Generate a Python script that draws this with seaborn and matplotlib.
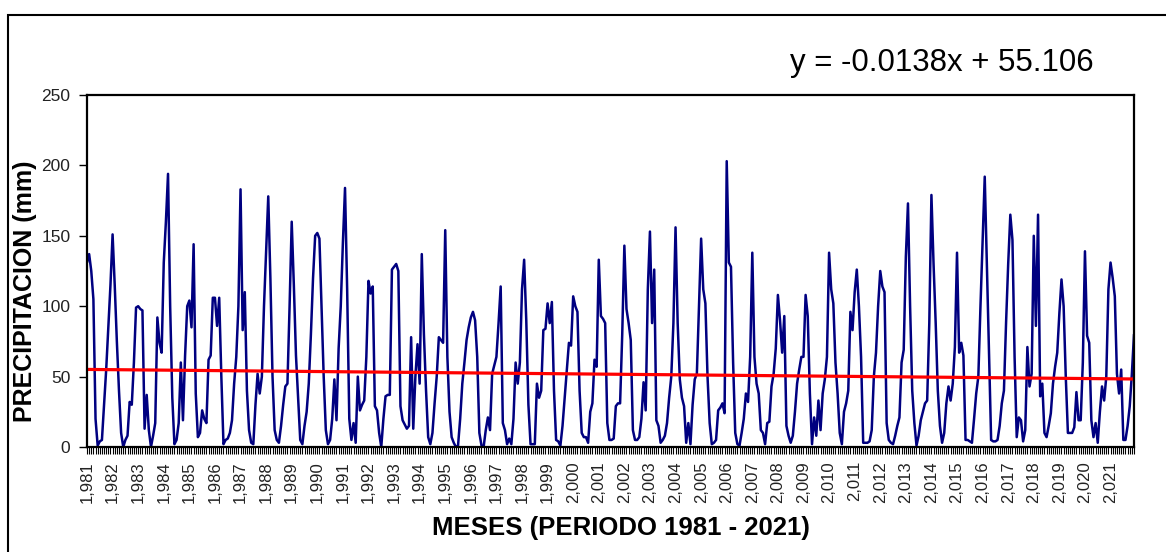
import numpy as np
import pandas as pd
import matplotlib
matplotlib.use("Agg")
import matplotlib.pyplot as plt
from matplotlib.patches import Rectangle
import seaborn as sns

# Monthly precipitation (mm), January 1981 - December 2021
rain_1981_1990 = [
    131, 137, 125, 105, 20, 1, 4, 5, 30, 55, 85, 115,
    151, 115, 75, 40, 10, 0, 5, 8, 32, 30, 60, 99,
    100, 98, 97, 13, 37, 12, 0, 8, 17, 92, 74, 67,
    131, 160, 194, 100, 35, 2, 5, 17, 60, 19, 65, 100,
    104, 85, 144, 38, 7, 10, 26, 20, 17, 62, 65, 106,
    106, 86, 106, 50, 2, 5, 6, 10, 19, 45, 64, 100,
    183, 83, 110, 40, 12, 3, 2, 30, 52, 38, 50, 100,
    140, 178, 120, 50, 12, 5, 3, 15, 30, 43, 45, 100,
    160, 115, 65, 35, 5, 2, 15, 25, 45, 80, 120, 150,
    152, 148, 100, 50, 12, 2, 5, 20, 48, 19, 70, 100,
]
rain_1991_2000 = [
    145, 184, 112, 20, 5, 17, 3, 50, 26, 30, 33, 64,
    118, 109, 114, 29, 26, 10, 0, 20, 36, 37, 37, 126,
    128, 130, 125, 29, 19, 16, 13, 15, 78, 13, 50, 73,
    45, 137, 80, 40, 7, 2, 10, 31, 50, 78, 76, 74,
    154, 64, 25, 7, 3, 0, 1, 20, 45, 60, 76, 85,
    92, 96, 90, 64, 10, 1, 0, 12, 21, 12, 52, 58,
    64, 88, 114, 17, 12, 2, 6, 2, 20, 60, 45, 60,
    112, 133, 90, 30, 2, 2, 2, 45, 35, 40, 83, 84,
    102, 88, 103, 40, 5, 4, 1, 15, 35, 55, 74, 72,
    107, 100, 96, 40, 10, 7, 7, 3, 25, 31, 62, 57,
]
rain_2001_2010 = [
    133, 93, 91, 88, 17, 5, 5, 6, 29, 31, 31, 80,
    143, 98, 88, 76, 12, 5, 5, 7, 20, 46, 26, 112,
    153, 88, 126, 19, 15, 3, 5, 8, 17, 35, 50, 88,
    156, 88, 48, 35, 29, 3, 17, 2, 30, 48, 52, 100,
    148, 112, 102, 50, 17, 2, 3, 5, 26, 28, 31, 24,
    203, 131, 128, 60, 10, 2, 1, 10, 20, 38, 32, 64,
    138, 64, 45, 38, 12, 10, 2, 17, 18, 43, 52, 70,
    108, 90, 67, 93, 15, 8, 3, 8, 25, 45, 55, 64,
    64, 108, 93, 38, 2, 21, 8, 33, 12, 38, 48, 64,
    138, 112, 102, 60, 38, 10, 2, 25, 31, 40, 96, 83,
]
rain_2011_2021 = [
    110, 126, 100, 64, 3, 3, 3, 4, 12, 50, 67, 100,
    125, 114, 110, 17, 5, 3, 2, 8, 15, 21, 60, 69,
    135, 173, 100, 40, 17, 1, 8, 19, 25, 31, 33, 88,
    179, 130, 88, 40, 15, 3, 10, 31, 43, 33, 45, 71,
    138, 67, 74, 65, 5, 5, 4, 3, 20, 38, 50, 100,
    147, 192, 130, 70, 5, 4, 4, 5, 15, 31, 40, 88,
    130, 165, 147, 64, 7, 21, 19, 4, 12, 71, 43, 52,
    150, 86, 165, 36, 45, 10, 7, 15, 24, 45, 57, 67,
    95, 119, 100, 50, 10, 10, 10, 14, 39, 19, 19, 60,
    139, 79, 74, 19, 7, 17, 3, 25, 43, 33, 50, 112,
    131, 120, 107, 52, 38, 55, 5, 5, 15, 29, 52, 80,
]

years = list(range(1981, 2022))
year_labels = [f"{y:,}" for y in years]

# Linear trend (x = month number starting at 1)
trend_slope = -0.0138
trend_intercept = 55.106
trend_label = "y = -0.0138x + 55.106"

precip = rain_1981_1990 + rain_1991_2000 + rain_2001_2010 + rain_2011_2021
df = pd.DataFrame({"mes": np.arange(len(precip)), "pp": precip})
df["tendencia"] = trend_slope * (df["mes"] + 1) + trend_intercept

sns.set_theme(style="white")
plt.rcParams["font.family"] = ["Liberation Sans", "DejaVu Sans"]

W, H = 1166, 552
fig = plt.figure(figsize=(W / 100, H / 100), dpi=100)
fig.patch.set_facecolor("white")
ax = fig.add_axes([87 / W, 1 - 447 / H, (1134 - 87) / W, (447 - 95) / H])

sns.lineplot(data=df, x="mes", y="pp", ax=ax, color="#000080", linewidth=1.8)
sns.lineplot(data=df, x="mes", y="tendencia", ax=ax, color="#ff0000", linewidth=2.3)

ax.set_xlim(0, len(precip) - 1)
ax.set_ylim(0, 250)
ax.set_yticks([0, 50, 100, 150, 200, 250])
ax.set_xticks(np.arange(0, len(precip), 12))
ax.set_xticklabels(year_labels, rotation=90, fontsize=12, color="#222222")
ax.set_xticks(np.arange(len(precip)), minor=True)
ax.tick_params(axis="x", which="both", bottom=True, direction="out",
               length=5, width=0.8, color="black", pad=5)
ax.tick_params(axis="y", which="major", left=True, direction="out",
               length=6, width=1.0, color="black", pad=6,
               labelsize=12.5, labelcolor="#222222")
for s in ax.spines.values():
    s.set_color("black")
    s.set_linewidth(1.6)
ax.set_xlabel("")
ax.set_ylabel("")

fig.text(621 / W, 1 - 528 / H, "MESES (PERIODO 1981 - 2021)",
         ha="center", va="center", fontsize=18.5, fontweight="bold", color="black")
fig.text(25 / W, 1 - 291 / H, "PRECIPITACION (mm)", rotation=90,
         ha="center", va="center", fontsize=18, fontweight="bold", color="black")
fig.text(942 / W, 1 - 71 / H, trend_label, ha="center", va="baseline",
         fontsize=22.5, color="black")

# Outer chart border
fig.add_artist(Rectangle((8 / W, -0.1), 1.2, 1 - 15 / H + 0.1,
                         transform=fig.transFigure, fill=False,
                         edgecolor="black", linewidth=1.5, clip_on=False))

fig.savefig("out.png", dpi=100)
